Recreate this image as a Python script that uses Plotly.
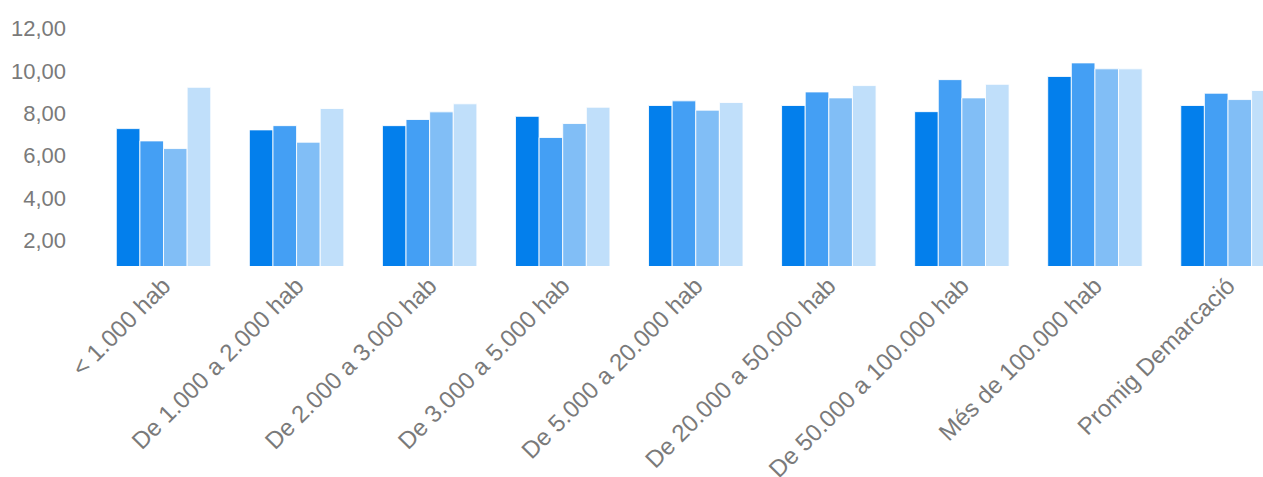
import plotly.graph_objects as go

categories = ["< 1.000 hab", "De 1.000 a 2.000 hab", "De 2.000 a 3.000 hab",
              "De 3.000 a 5.000 hab", "De 5.000 a 20.000 hab", "De 20.000 a 50.000 hab",
              "De 50.000 a 100.000 hab", "Més de 100.000 hab", "Promig Demarcació"]

serie_1 = [7.28, 7.22, 7.42, 7.86, 8.37, 8.37, 8.08, 9.74, 8.37]
serie_2 = [6.70, 7.42, 7.71, 6.86, 8.59, 9.01, 9.59, 10.38, 8.95]
serie_3 = [6.34, 6.64, 8.07, 7.52, 8.15, 8.73, 8.73, 10.10, 8.65]
serie_4 = [9.23, 8.23, 8.45, 8.29, 8.51, 9.31, 9.37, 10.10, 9.08]

series = [serie_1, serie_2, serie_3, serie_4]
colors = ["#037FEC", "#449FF4", "#81BEF6", "#C0DFFA"]
names = ["Sèrie 1", "Sèrie 2", "Sèrie 3", "Sèrie 4"]

tick_vals = [2, 4, 6, 8, 10, 12]
tick_text = ["2,00", "4,00", "6,00", "8,00", "10,00", "12,00"]

fig = go.Figure()
for vals, col, nm in zip(series, colors, names):
    fig.add_trace(go.Bar(
        x=categories, y=vals, name=nm, base=0,
        marker=dict(color=col, line=dict(color="rgba(255,255,255,0.85)", width=1)),
    ))

fig.update_layout(
    width=1263, height=477,
    margin=dict(l=97, r=0, t=10, b=211),
    barmode="group", bargap=0.29, bargroupgap=0,
    showlegend=False,
    plot_bgcolor="white", paper_bgcolor="white",
    font=dict(family="Liberation Sans, Arial, sans-serif", color="#7a7a7a"),
)
fig.update_xaxes(
    range=[-0.5, 8.263], tickangle=-45, showgrid=False, zeroline=False,
    showline=False, ticks="", automargin=False,
    tickfont=dict(size=24, color="#7a7a7a"),
)
fig.update_yaxes(
    range=[0.8, 12.875], tickvals=tick_vals, ticktext=tick_text,
    showgrid=False, zeroline=False, showline=False, ticks="", automargin=False,
    ticklabelstandoff=30, tickfont=dict(size=22, color="#7a7a7a"),
)

fig.write_html("out.html")
